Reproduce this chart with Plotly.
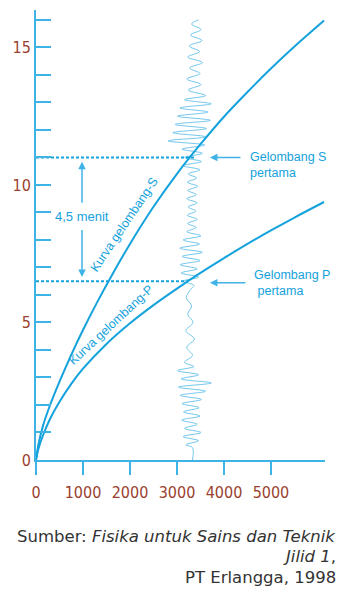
import plotly.graph_objects as go

# ---- data (distance in km, time in minutes) ----
s_dist = [0, 50, 150, 300, 500, 750, 1000, 1300, 1600, 2000, 2500, 3000, 3500, 4000, 4500, 5000, 5500, 6130]
s_time = [0, 0.55, 1.25, 2.0, 2.85, 3.825, 4.725, 5.73, 6.675, 7.855, 9.205, 10.405, 11.48, 12.48,
          13.38, 14.23, 15.03, 15.975]

p_dist = [0, 50, 150, 300, 500, 750, 1000, 1500, 2000, 2500, 3000, 3500, 4000, 4500, 5000, 5500, 6130]
p_time = [0, 0.4, 0.9, 1.5, 2.12, 2.77, 3.32, 4.22, 4.97, 5.63, 6.23, 6.8, 7.34, 7.855, 8.345, 8.815, 9.38]

seis_time = [0, 0.45,
             0.55, 0.7, 0.85, 1.0, 1.15, 1.3, 1.45, 1.6, 1.75, 1.9, 2.05, 2.2,
             2.35, 2.5, 2.65, 2.8, 2.95, 3.1, 3.25, 3.4, 3.55,
             3.8, 4.1, 4.4, 4.7, 5.0, 5.3, 5.6, 5.9, 6.2,
             6.35, 6.5, 6.65, 6.8, 6.95, 7.1, 7.25, 7.4, 7.55, 7.7, 7.85, 8.0, 8.15, 8.3,
             8.45, 8.6, 8.75, 8.9, 9.05, 9.2, 9.35, 9.5, 9.65, 9.8, 9.95, 10.1, 10.25, 10.4,
             10.55, 10.7, 10.85, 11.0, 11.15, 11.3,
             11.45, 11.6, 11.75, 11.9, 12.05,
             12.2, 12.35, 12.5, 12.65, 12.8, 12.95, 13.1, 13.25,
             13.45, 13.65, 13.85, 14.05, 14.25, 14.45, 14.65, 14.85, 15.05, 15.25, 15.45, 15.65, 15.85, 16.0]
seis_dist = [3330, 3330,
             3190, 3460, 3130, 3510, 3160, 3430, 3100, 3490, 3140, 3470, 3110, 3520,
             3070, 3610, 3030, 3730, 3090, 3460, 3010, 3360, 3160,
             3330, 3210, 3370, 3190, 3340, 3230, 3310, 3200, 3290,
             3360, 3130, 3460, 3090, 3430, 3070, 3490, 3110, 3540, 3060, 3480, 3130, 3510, 3210,
             3410, 3230, 3430, 3220, 3400, 3240, 3430, 3210, 3410, 3230, 3440, 3220, 3420, 3240,
             3490, 3130, 3520, 3160, 3540, 3110,
             3590, 2810, 3610, 2910, 3630,
             2960, 3710, 3010, 3660, 3060, 3730, 3160, 3610,
             3240, 3510, 3210, 3490, 3270, 3540, 3230, 3480, 3260, 3530, 3290, 3510, 3310, 3460]

s_first = 11.0
p_first = 6.5
s_dash_end = 3383
p_dash_end = 3234

x_tick_vals = [0, 1000, 2000, 3000, 4000, 5000]
x_tick_text = ["0", "1000", "2000", "3000", "4000", "5000"]
y_tick_vals = list(range(0, 17))
y_tick_text = [str(v) if v % 5 == 0 else "" for v in y_tick_vals]

BLUE = "#14a2dc"
LBLUE = "#3fb3e6"
SEIS = "#74c7ec"
BROWN = "#9a3f2e"
TICKFONT = "DejaVu Sans Condensed, DejaVu Sans, sans-serif"
ARIAL = "Liberation Sans, Arial, sans-serif"

fig = go.Figure()

# seismogram
fig.add_trace(go.Scatter(x=seis_dist, y=seis_time, mode="lines",
                         line=dict(color=SEIS, width=1, shape="spline", smoothing=1.0),
                         hoverinfo="skip", showlegend=False))
# dashed lines
fig.add_trace(go.Scatter(x=[0, s_dash_end], y=[s_first, s_first], mode="lines",
                         line=dict(color=BLUE, width=2, dash="3px,2px"), showlegend=False))
fig.add_trace(go.Scatter(x=[0, p_dash_end], y=[p_first, p_first], mode="lines",
                         line=dict(color=BLUE, width=2, dash="3px,2px"), showlegend=False))
# curves
fig.add_trace(go.Scatter(x=s_dist, y=s_time, mode="lines",
                         line=dict(color=BLUE, width=2, shape="spline", smoothing=1.0),
                         showlegend=False))
fig.add_trace(go.Scatter(x=p_dist, y=p_time, mode="lines",
                         line=dict(color=BLUE, width=2, shape="spline", smoothing=1.0),
                         showlegend=False))

ann = []
# curve labels
ann.append(dict(x=1870, y=8.55, text="Kurva gelombang-S", textangle=-56, showarrow=False,
                font=dict(family=ARIAL, size=12.5, color=BLUE), xref="x", yref="y"))
ann.append(dict(x=1600, y=4.9, text="Kurva gelombang-P", textangle=-43, showarrow=False,
                font=dict(family=ARIAL, size=12.5, color=BLUE), xref="x", yref="y"))
# 4,5 menit
ann.append(dict(x=979, y=8.87, text="4,5 menit", showarrow=False,
                font=dict(family=ARIAL, size=13, color=BLUE), xref="x", yref="y"))
ann.append(dict(x=979, y=10.84, ax=979, ay=9.3, axref="x", ayref="y", xref="x", yref="y",
                text="", showarrow=True, arrowhead=2, arrowsize=1, arrowwidth=1.5, arrowcolor=LBLUE))
ann.append(dict(x=979, y=6.65, ax=979, ay=8.42, axref="x", ayref="y", xref="x", yref="y",
                text="", showarrow=True, arrowhead=2, arrowsize=1, arrowwidth=1.5, arrowcolor=LBLUE))
# Gelombang S / P pertama
ann.append(dict(x=3702, y=11.0, ax=32, ay=0, xref="x", yref="y", text="", showarrow=True,
                arrowhead=2, arrowsize=1, arrowwidth=1.5, arrowcolor=LBLUE))
ann.append(dict(x=3702, y=6.44, ax=37, ay=0, xref="x", yref="y", text="", showarrow=True,
                arrowhead=2, arrowsize=1, arrowwidth=1.5, arrowcolor=LBLUE))
for (tx, ty, tt) in [(4511, 10.73, "Gelombang S<br>pertama"),
                     (4596, 6.42, "Gelombang P<br>&nbsp;pertama")]:
    ann.append(dict(x=tx, y=ty, text=tt, showarrow=False, xanchor="left", yanchor="middle",
                    align="left", font=dict(family=ARIAL, size=12.5, color=BLUE),
                    xref="x", yref="y"))
# caption
CAP = "DejaVu Sans, Verdana, sans-serif"
for (cy, ct) in [(-0.170, "Sumber: <i>Fisika untuk Sains dan Teknik</i>"),
                 (-0.215, "<i>Jilid 1</i>,"),
                 (-0.262, "PT Erlangga, 1998")]:
    ann.append(dict(x=1.045, y=cy, xref="paper", yref="paper", text=ct, showarrow=False,
                    xanchor="right", yanchor="middle",
                    font=dict(family=CAP, size=16.5, color="#333333")))

fig.update_layout(
    width=351, height=596,
    margin=dict(l=36, r=26, t=10, b=136),
    paper_bgcolor="white", plot_bgcolor="white",
    annotations=ann,
    xaxis=dict(range=[0, 6150], showgrid=False, zeroline=False, showline=True,
               linecolor=LBLUE, linewidth=2, ticks="outside", ticklen=13, tickwidth=1.5,
               tickcolor=LBLUE, tickvals=x_tick_vals, ticktext=x_tick_text,
               tickfont=dict(family=TICKFONT, size=16, color=BROWN), ticklabelstandoff=4),
    yaxis=dict(range=[0, 16.36], showgrid=False, zeroline=False, showline=True,
               linecolor=LBLUE, linewidth=2, ticks="inside", ticklen=15, tickwidth=1.5,
               tickcolor=LBLUE, tickvals=y_tick_vals, ticktext=y_tick_text,
               tickfont=dict(family=TICKFONT, size=16, color=BROWN)),
)

fig.write_html("out.html")
